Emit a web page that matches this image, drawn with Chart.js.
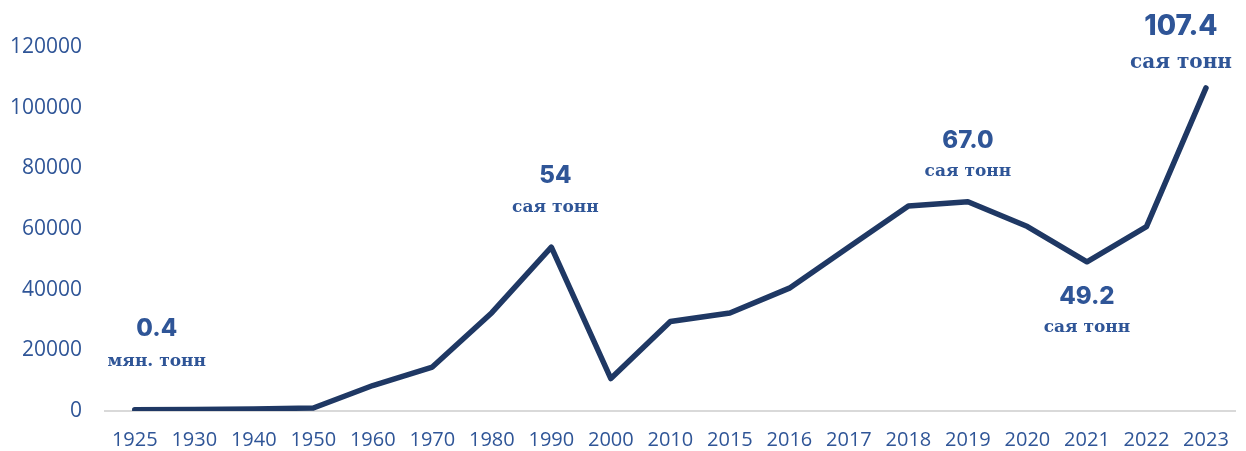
<!DOCTYPE html>
<html>
<head>
<meta charset="utf-8">
<script src="https://cdn.jsdelivr.net/npm/chart.js@4"></script>
<style>
    html, body { margin: 0; padding: 0; background: #ffffff; }
    #wrap { width: 1246px; height: 451px; }
</style>
</head>
<body>
<div id="wrap"><canvas id="coalChart"></canvas></div>
<script>
// years and output (thousand tons)
const years = ['1925', '1930', '1940', '1950', '1960', '1970', '1980', '1990', '2000', '2010',
    '2015', '2016', '2017', '2018', '2019', '2020', '2021', '2022', '2023'];
const output = [400, 500, 700, 1000, 8400, 14500, 32400, 54000, 10700, 29500,
    32300, 40500, 54100, 67600, 69000, 60800, 49200, 60800, 106500];

const yTicks = [0, 20000, 40000, 60000, 80000, 100000, 120000];

// callouts
const noteIndex = [0, 7, 14, 16, 18];
const noteNumber = ['0.4', '54', '67.0', '49.2', '107.4'];
const noteUnit = ['мян. тонн', 'сая тонн', 'сая тонн', 'сая тонн', 'сая тонн'];

// where each callout sits relative to its point (px): dx, number y, unit y
const noteLayout = [
    {dx: 22, ny: 329, uy: 362, big: false},
    {dx: 4, ny: 176, uy: 208, big: false},
    {dx: 0, ny: 141, uy: 172, big: false},
    {dx: 0, ny: 297, uy: 328, big: false},
    {dx: -25, ny: 27, uy: 63, big: true}
];

const blue = '#2F5597';

const notesPlugin = {
    id: 'notes',
    afterDatasetsDraw(chart) {
        const ctx = chart.ctx;
        const x = chart.scales.x;
        ctx.save();
        ctx.fillStyle = blue;
        ctx.textAlign = 'center';
        ctx.textBaseline = 'middle';
        noteIndex.forEach((idx, i) => {
            const l = noteLayout[i];
            const px = x.getPixelForValue(idx) + l.dx;
            ctx.font = (l.big ? '800 28px' : '800 24px') + ' Inter';
            ctx.fillText(noteNumber[i], px, l.ny);
            ctx.font = (l.big ? 'bold 20px' : 'bold 17px') + ' "DejaVu Serif"';
            ctx.fillText(noteUnit[i], px, l.uy);
        });
        ctx.restore();
    }
};

const ctx = document.getElementById('coalChart').getContext('2d');
new Chart(ctx, {
    type: 'line',
    data: {
        labels: years,
        datasets: [{
            data: output,
            borderColor: '#1F3864',
            borderWidth: 5.5,
            borderCapStyle: 'round',
            borderJoinStyle: 'round',
            pointRadius: 0,
            tension: 0,
            fill: false
        }]
    },
    options: {
        responsive: true,
        maintainAspectRatio: false,
        animation: false,
        layout: {
            padding: {left: 8, right: 6, top: 47, bottom: 0}
        },
        plugins: {
            legend: {display: false},
            tooltip: {enabled: false}
        },
        scales: {
            x: {
                offset: true,
                grid: {display: false, drawTicks: false},
                border: {display: true, color: '#D9D9D9', width: 2},
                ticks: {
                    color: blue,
                    padding: 17,
                    maxRotation: 0,
                    autoSkip: false,
                    font: {family: '"Open Sans"', size: 20}
                },
                afterFit(scale) {
                    scale.height = 40;
                }
            },
            y: {
                min: 0,
                max: 120000,
                grid: {display: false, drawTicks: false},
                border: {display: false},
                afterBuildTicks(scale) {
                    scale.ticks = yTicks.map(v => ({value: v}));
                },
                ticks: {
                    color: blue,
                    padding: 23,
                    font: {family: '"Open Sans"', size: 21},
                    callback: v => String(v)
                },
                afterFit(scale) {
                    scale.width = 97;
                }
            }
        }
    },
    plugins: [notesPlugin]
});
</script>
</body>
</html>
